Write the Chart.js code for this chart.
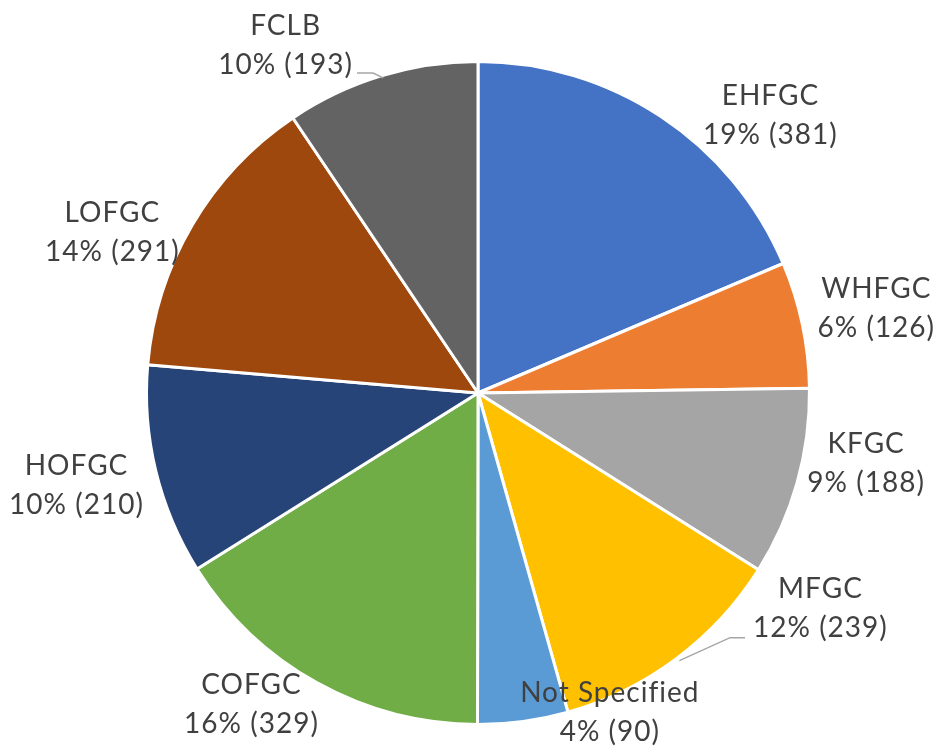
<!DOCTYPE html>
<html>
<head>
<meta charset="utf-8">
<script src="https://cdn.jsdelivr.net/npm/chart.js@4/dist/chart.umd.min.js"></script>
<style>
html,body{margin:0;padding:0;background:#fff;}
#wrap{width:941px;height:753px;position:relative;}
</style>
</head>
<body>
<div id="wrap"><canvas id="c" width="941" height="753"></canvas></div>
<script>
const categories = ["EHFGC","WHFGC","KFGC","MFGC","Not Specified","COFGC","HOFGC","LOFGC","FCLB"];
const counts = [381,126,188,239,90,329,210,291,193];
const percents = [19,6,9,12,4,16,10,14,10];
const colors = ["#4472C4","#ED7D31","#A5A5A5","#FFC000","#5B9BD5","#70AD47","#264478","#9E480E","#636363"];

// label layout (angle shift in degrees from slice mid-angle, distance as factor of radius)
const labelShift = [13,0,-5.4,-21.1,-14.6,7,0.6,-6.8,-12];
const labelDist = [1.216,1.228,1.19,1.22,1.042,1.162,1.243,1.204,1.198];
const leaderLines = {3:"left",8:"right"};

const FONT = '28px Lato, "Open Sans", sans-serif';
const labelPlugin = {
  id:'outLabels',
  afterDatasetsDraw(chart){
    const ctx = chart.ctx;
    const meta = chart.getDatasetMeta(0);
    ctx.save();
    ctx.font = FONT;
    if ('letterSpacing' in ctx) ctx.letterSpacing = '1px';
    ctx.fillStyle = '#404040';
    ctx.textAlign = 'center';
    ctx.textBaseline = 'middle';
    const lh = 39;
    meta.data.forEach((arc,i)=>{
      const mid = (arc.startAngle+arc.endAngle)/2;
      const a = mid + labelShift[i]*Math.PI/180;
      const r = arc.outerRadius*labelDist[i];
      const cx = arc.x + r*Math.cos(a);
      const cy = arc.y + r*Math.sin(a);
      const l1 = categories[i];
      const l2 = percents[i] + '% (' + counts[i] + ')';
      ctx.fillText(l1, cx, cy - lh/2);
      ctx.fillText(l2, cx, cy + lh/2);
      if (leaderLines[i]) {
        const px = arc.x + arc.outerRadius*Math.cos(mid);
        const py = arc.y + arc.outerRadius*Math.sin(mid);
        const w = ctx.measureText(l2).width;
        ctx.save();
        ctx.strokeStyle = '#A6A6A6';
        ctx.lineWidth = 1.5;
        ctx.beginPath();
        if (leaderLines[i]==='left') {
          const sx = cx - w/2 - 8, sy = cy + lh/2 + 10;
          ctx.moveTo(sx, sy);
          ctx.lineTo(sx - 15, sy);
          ctx.lineTo(px + 3, py + 2);
        } else {
          const sx = cx + w/2 + 4, sy = cy + lh/2 + 8;
          ctx.moveTo(sx, sy);
          ctx.lineTo(sx + 16, sy);
          ctx.lineTo(px + 2, py + 2);
        }
        ctx.stroke();
        ctx.restore();
      }
    });
    ctx.restore();
  }
};

new Chart(document.getElementById('c'), {
  type:'pie',
  data:{
    labels:categories,
    datasets:[{
      data:counts,
      backgroundColor:colors,
      borderColor:'#ffffff',
      borderWidth:3
    }]
  },
  options:{
    responsive:false,
    animation:false,
    layout:{padding:{top:60,bottom:27,left:145,right:130}},
    plugins:{legend:{display:false},tooltip:{enabled:false}}
  },
  plugins:[labelPlugin]
});
</script>
</body>
</html>
